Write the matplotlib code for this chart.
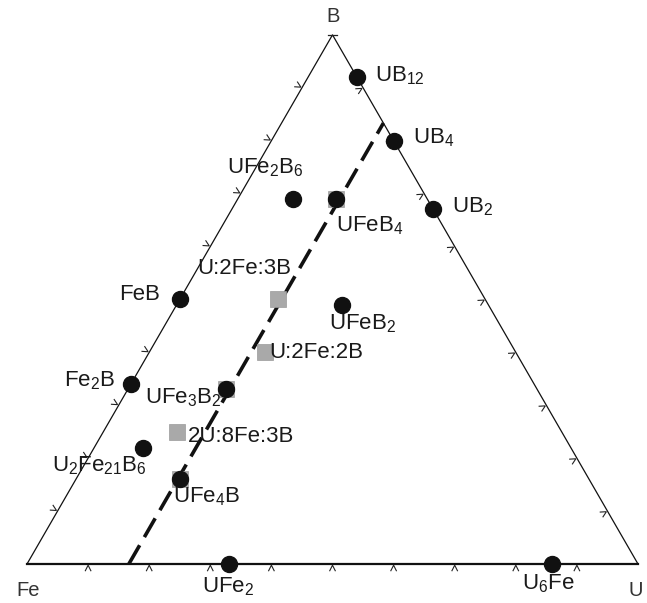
import numpy as np
import matplotlib
matplotlib.use("Agg")
import matplotlib.pyplot as plt

plt.rcParams['font.family'] = ['Liberation Sans', 'DejaVu Sans']
plt.rcParams['mathtext.fontset'] = 'custom'
plt.rcParams['mathtext.rm'] = 'Liberation Sans'
plt.rcParams['mathtext.it'] = 'Liberation Sans'
plt.rcParams['mathtext.bf'] = 'Liberation Sans:bold'

# Known phases (atomic fractions U, Fe, B)
phase_names = ["UB$_{12}$", "UB$_4$", "UB$_2$", "FeB", "Fe$_2$B", "UFe$_2$", "U$_6$Fe",
               "UFe$_2$B$_6$", "UFeB$_4$", "UFeB$_2$", "UFe$_3$B$_2$",
               "U$_2$Fe$_{21}$B$_6$", "UFe$_4$B"]
phase_U = [0.08, 0.20, 0.33, 0.00, 0.00, 0.33, 0.86, 0.09, 0.16, 0.27, 0.16, 0.08, 0.17]
phase_Fe = [0.00, 0.00, 0.00, 0.50, 0.66, 0.67, 0.14, 0.22, 0.15, 0.24, 0.51, 0.70, 0.67]
phase_B = [0.92, 0.80, 0.67, 0.50, 0.34, 0.00, 0.00, 0.69, 0.69, 0.49, 0.33, 0.22, 0.16]

# Nominal alloy compositions (atomic fractions U, Fe, B)
alloy_names = ["U:2Fe:3B", "U:2Fe:2B", "2U:8Fe:3B", "", "", ""]
alloy_U = [0.16, 0.19, 0.12, 0.16, 0.16, 0.17]
alloy_Fe = [0.34, 0.41, 0.63, 0.15, 0.51, 0.67]
alloy_B = [0.50, 0.40, 0.25, 0.69, 0.33, 0.16]

# Iso-uranium section
section_U = 1.0 / 6.0

vertex_names = ["Fe", "U", "B"]
tick_fracs = [0.1, 0.2, 0.3, 0.4, 0.5, 0.6, 0.7, 0.8, 0.9]

H = np.sqrt(3) / 2


def tern(u, fe, b):
    u = np.asarray(u, float)
    b = np.asarray(b, float)
    return u + b / 2.0, b * H


fig = plt.figure(figsize=(6.47, 6.03), dpi=100)
ax = fig.add_axes([0, 0, 1, 1])
S = 611.0
ax.set_xlim(-27 / S, (647 - 27) / S)
ax.set_ylim((564 - 603) / S, 564 / S)
ax.axis('off')


def px(x, y):
    return (x - 27) / S, (564 - y) / S


# Triangle edges
ax.plot([0, 0.5, 1], [0, H, 0], color='#111111', lw=0.9, zorder=2)
ax.plot([0, 1], [0, 0], color='#111111', lw=1.6, zorder=2)

# Small chevron ticks along each edge
def chevron(p, n, d, size=0.0045, off=0.002, depth=0.009):
    apex = p + n * off
    a = apex + n * depth + d * size
    c = apex + n * depth - d * size
    ax.plot([a[0], apex[0], c[0]], [a[1], apex[1], c[1]],
            color='#222222', lw=0.8, zorder=2, solid_joinstyle='miter')

for t in tick_fracs:
    # bottom edge (Fe -> U), ticks below
    chevron(np.array([t, 0.0]), np.array([0.0, -1.0]), np.array([1.0, 0.0]))
    # left edge (Fe -> B), ticks outside
    p = np.array([0.5 * t, H * t])
    chevron(p, np.array([-H, 0.5]), np.array([0.5, H]))
    # right edge (U -> B), ticks inside
    p = np.array([1 - 0.5 * t, H * t])
    chevron(p, np.array([-H, -0.5]), np.array([-0.5, H]))

# apex mark
ax.plot([0.5 - 0.008, 0.5 + 0.008], [H, H], color='#222222', lw=0.9, zorder=2)

# Iso-U section line
x0, y0 = tern(section_U, 1 - section_U, 0.0)
x1, y1 = tern(section_U, 0.0, 1 - section_U)
ax.plot([x0, x1], [y0, y1], color='#111111', lw=2.6, dashes=(6, 2.6),
        zorder=3, dash_capstyle='butt')

# Alloy squares and phase circles
ax_x, ax_y = tern(alloy_U, alloy_Fe, alloy_B)
ax.plot(ax_x, ax_y, 's', color='#a9a9a9', ms=11.5, mec='#9a9a9a', mew=0.5,
        zorder=4, ls='none')
ph_x, ph_y = tern(phase_U, phase_Fe, phase_B)
ax.plot(ph_x, ph_y, 'o', color='#111111', ms=11.5, zorder=5, ls='none')

# Labels (pixel anchors: edge, vertical centre)
fs = 16
tc = '#1a1a1a'
phase_label_pos = [(375, 76, 'left'), (413, 138, 'left'), (452, 207, 'left'),
                   (160, 295, 'right'), (115, 381, 'right'), (202, 587, 'left'),
                   (522, 584, 'left'), (227, 168, 'left'), (336, 226, 'left'),
                   (329, 324, 'left'), (145, 398, 'left'), (52, 466, 'left'),
                   (173, 497, 'left')]
for name, (lx, ly, ha) in zip(phase_names, phase_label_pos):
    X, Y = px(lx, ly)
    ax.text(X, Y, name, fontsize=fs, color=tc, ha=ha, va='center', zorder=6)

alloy_label_pos = [(197, 269), (269, 352), (188, 436)]
for name, (lx, ly) in zip(alloy_names[:3], alloy_label_pos):
    X, Y = px(lx, ly)
    ax.text(X, Y, name, fontsize=fs, color=tc, ha='left', va='center', zorder=6)

vertex_pos = [(28, 590), (636, 590), (333, 17)]
for name, (lx, ly) in zip(vertex_names, vertex_pos):
    X, Y = px(lx, ly)
    ax.text(X, Y, name, fontsize=14.5, color='#333333', ha='center', va='center')

fig.savefig("out.png", dpi=100)
